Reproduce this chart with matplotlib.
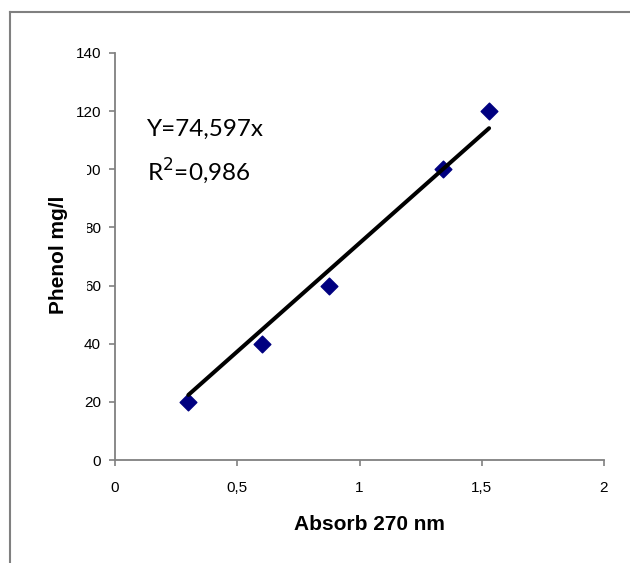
import matplotlib
matplotlib.use("Agg")
import matplotlib.pyplot as plt
from matplotlib.lines import Line2D
from matplotlib.patches import Rectangle

absorb = [0.30, 0.60, 0.875, 1.34, 1.53]
phenol = [20, 40, 60, 100, 120]
slope = 74.597
r2_text = "0,986"
x_ticks = [0, 0.5, 1, 1.5, 2]
x_tick_labels = ["0", "0,5", "1", "1,5", "2"]
y_ticks = [0, 20, 40, 60, 80, 100, 120, 140]

W, H = 630, 563
fig = plt.figure(figsize=(W / 100, H / 100), dpi=100)
ax = fig.add_axes([115 / W, 1 - 460 / H, 489 / W, 407 / H])

ax.scatter(absorb, phenol, marker="D", s=8.5 ** 2, color="#000080", zorder=2)
x_fit = [min(absorb), max(absorb)]
ax.plot(x_fit, [slope * v for v in x_fit], color="black", lw=2.9,
        solid_capstyle="round", zorder=3)

ax.set_xlim(0, 2)
ax.set_ylim(0, 140)
ax.set_xticks(x_ticks)
ax.set_xticklabels(x_tick_labels)
ax.set_yticks(y_ticks)
for s in ["top", "right"]:
    ax.spines[s].set_visible(False)
for s in ["left", "bottom"]:
    ax.spines[s].set_color("#808080")
    ax.spines[s].set_linewidth(1.3)
ax.tick_params(axis="both", colors="#808080", labelcolor="black", length=4,
               width=1.2, labelsize=11)
ax.tick_params(axis="x", pad=11)
ax.tick_params(axis="y", pad=6)
for lab in ax.get_xticklabels() + ax.get_yticklabels():
    lab.set_family("Liberation Sans")

ax.set_xlabel("Absorb 270 nm", fontsize=15, fontweight="bold",
              family="Liberation Sans")
ax.xaxis.set_label_coords(0.52, -0.135)

# y label sits on a white box that hides part of the tick labels
fig.patches.append(Rectangle((40 / W, 1 - 336 / H), 47.3 / W, 176 / H,
                             transform=fig.transFigure, facecolor="white",
                             edgecolor="none", zorder=2))
fig.text(58 / W, 1 - 255 / H, "Phenol mg/l", rotation=90, ha="center",
         va="center", fontsize=15, fontweight="bold", family="Liberation Sans",
         zorder=3)

eq_text = "Y=" + f"{slope:.3f}".replace(".", ",") + "x"
ax.text((147 - 115) / 489, (460 - 136) / 407, eq_text,
        transform=ax.transAxes, fontsize=17.5, family="Lato", va="baseline")
ax.text((147 - 115) / 489, (460 - 180) / 407, "R$^2$=" + r2_text,
        transform=ax.transAxes, fontsize=17.5, family="Lato", va="baseline")

# outer frame (partly cropped in the original)
fig.lines.append(Line2D([10 / W, 1], [1 - 12 / H, 1 - 12 / H], color="#808080",
                        lw=1.5, transform=fig.transFigure))
fig.lines.append(Line2D([10 / W, 10 / W], [0, 1 - 12 / H], color="#808080",
                        lw=1.5, transform=fig.transFigure))

fig.savefig("out.png", dpi=100)
